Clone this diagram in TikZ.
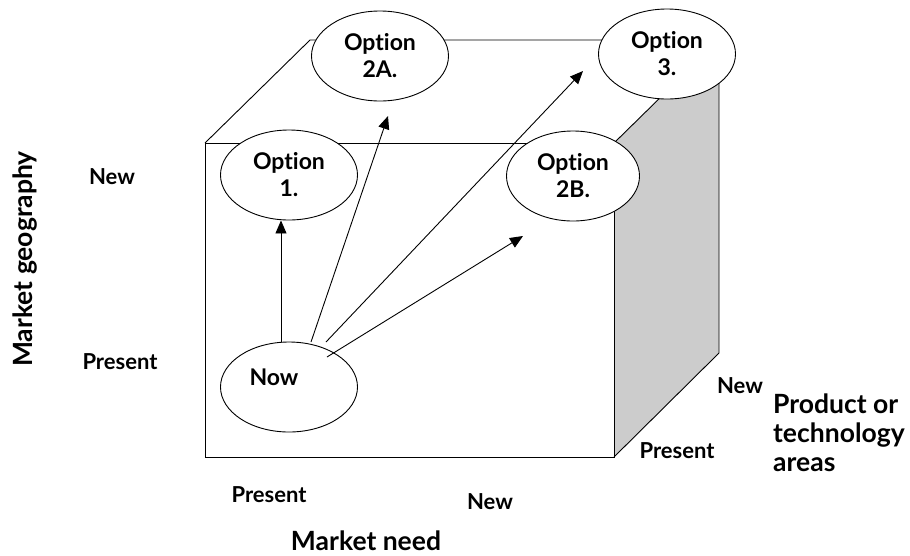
\documentclass[tikz,border=0pt]{standalone}
\usepackage{fontspec}
\setmainfont{Lato}[UprightFont=* Bold,Ligatures=NoCommon]
\usetikzlibrary{shapes.geometric,arrows.meta,calc}
\begin{document}
\begin{tikzpicture}[x=1pt,y=-1pt,
  edge/.style={line width=0.9pt,line join=miter},
  opt/.style={ellipse,draw,line width=0.9pt,fill=white,inner sep=0pt,
    minimum width=137pt,minimum height=90pt,align=center,
    font=\fontsize{23}{27}\selectfont},
  axval/.style={font=\fontsize{22}{24}\selectfont,inner sep=0pt},
  axtitle/.style={font=\fontsize{26.5}{29}\selectfont,inner sep=0pt},
  arr/.style={line width=0.9pt,-{Triangle[length=13pt,width=11pt]}}]
\useasboundingbox (0,0) rectangle (910,555);

% shaded side face of the cube
\fill[black!20] (614,143) -- (719,40) -- (719,353) -- (614,457) -- cycle;
% cube outline
\draw[edge] (205,143) rectangle (614,457);
\draw[edge] (205,143) -- (310,40) -- (719,40) -- (719,353) -- (614,457);
\draw[edge] (614,143) -- (719,40);

% option ellipses
\node[opt] (opt2a) at (380,56) {Option\\2A.};
\node[opt] (opt3) at (667,54) {Option\\3.};
\node[opt] (opt1) at (289,175) {Option\\1.};
\node[opt,minimum width=133pt] (opt2b) at (573,176) {Option\\2B.};
\node[opt] (now) at (289,387) {};
\node[font=\fontsize{23}{27}\selectfont,inner sep=0pt] (nowtxt) at (274,377) {Now};

% arrow tips
\coordinate (tipa) at (388,116);
\coordinate (tipb) at (583,71);
\coordinate (tipc) at (523,236);

% moves from the present position
\draw[arr] ($(now.center)+(-8,-45)$) -- (opt1.south -| {$(now.center)+(-8,0)$});
\draw[arr] ($(now.center)+(22,-45)$) -- (tipa);
\draw[arr] ($(now.center)+(37,-45)$) -- (tipb);
\draw[arr] ($(now.center)+(38,-30)$) -- (tipc);

% axis values
\node[axval] (gnew) at (112,177) {New};
\node[axval] (gpres) at (120,362) {Present};
\node[axval] (npres) at (269,495) {Present};
\node[axval] (nnew) at (490,502) {New};
\node[axval] (tnew) at (740,386) {New};
\node[axval] (tpres) at (677,451) {Present};

% axis titles
\node[axtitle,rotate=90] (geo) at (25,259) {Market geography};
\node[axtitle] (need) at (366,541) {Market need};
\node[axtitle,anchor=north west,align=left] (tech) at (773,394) {Product or\\technology\\areas};
\end{tikzpicture}
\end{document}
